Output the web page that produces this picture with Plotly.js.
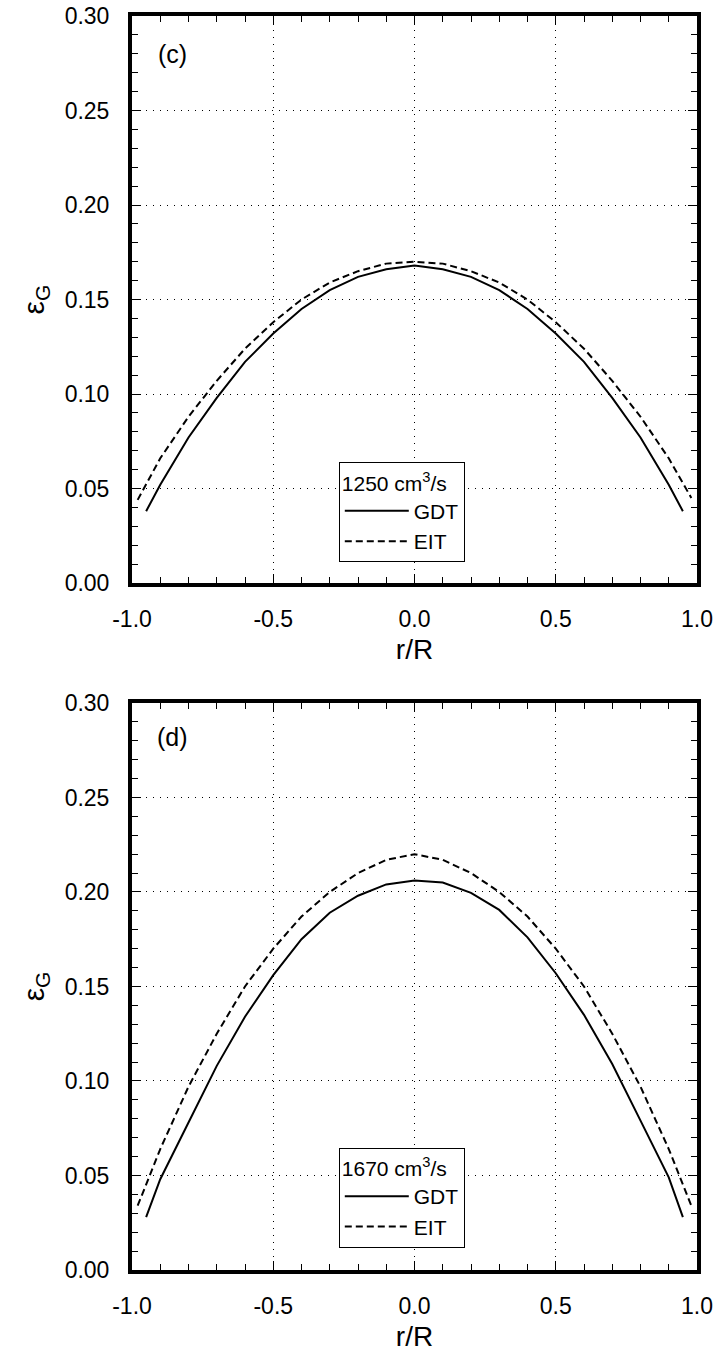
<!DOCTYPE html>
<html>
<head>
<meta charset="utf-8">
<script src="https://cdn.plot.ly/plotly-3.0.1.min.js"></script>
<style>html,body{margin:0;padding:0;background:#fff;}</style>
</head>
<body>
<div id="chart" style="width:717px;height:1352px;"></div>
<script>
// ---- data ----
var xGDT = [-0.95,-0.9,-0.8,-0.7,-0.6,-0.5,-0.4,-0.3,-0.2,-0.1,0,0.1,0.2,0.3,0.4,0.5,0.6,0.7,0.8,0.9,0.95];
var xEIT = [-0.98,-0.9,-0.8,-0.7,-0.6,-0.5,-0.4,-0.3,-0.2,-0.1,0,0.1,0.2,0.3,0.4,0.5,0.6,0.7,0.8,0.9,0.98];
var cGDT = [0.038,0.052,0.077,0.098,0.117,0.132,0.145,0.155,0.162,0.166,0.168,0.166,0.162,0.155,0.145,0.132,0.117,0.098,0.077,0.052,0.038];
var cEIT = [0.044,0.066,0.088,0.107,0.124,0.138,0.150,0.159,0.165,0.169,0.170,0.169,0.165,0.159,0.150,0.138,0.124,0.107,0.088,0.066,0.045];
var dGDT = [0.028,0.048,0.078,0.108,0.134,0.156,0.175,0.189,0.198,0.204,0.206,0.205,0.1995,0.1905,0.176,0.157,0.135,0.109,0.079,0.049,0.028];
var dEIT = [0.034,0.064,0.097,0.125,0.150,0.170,0.187,0.200,0.210,0.217,0.220,0.217,0.210,0.200,0.187,0.170,0.150,0.125,0.097,0.064,0.034];
var xTickVals = [-1.0,-0.5,0.0,0.5,1.0];
var xTickText = ["-1.0","-0.5","0.0","0.5","1.0"];
var yTickVals = [0,0.05,0.10,0.15,0.20,0.25,0.30];
var yTickText = ["0.00","0.05","0.10","0.15","0.20","0.25","0.30"];
var seriesNames = ["GDT","EIT"];
var flowTop = "1250 cm<sup>3</sup>/s";
var flowBottom = "1670 cm<sup>3</sup>/s";
var panelLabels = ["(c)","(d)"];

// ---- styling ----
var FONT = "Liberation Sans, Arial, Helvetica, sans-serif";
var solid = {color:"#000", width:2, dash:"solid"};
var dashed = {color:"#000", width:2, dash:"7px,4px"};

var traces = [
  {x:xGDT, y:cGDT, mode:"lines", name:seriesNames[0], line:solid, xaxis:"x", yaxis:"y", legend:"legend"},
  {x:xEIT, y:cEIT, mode:"lines", name:seriesNames[1], line:dashed, xaxis:"x", yaxis:"y", legend:"legend"},
  {x:xGDT, y:dGDT, mode:"lines", name:seriesNames[0], line:solid, xaxis:"x2", yaxis:"y2", legend:"legend2"},
  {x:xEIT, y:dEIT, mode:"lines", name:seriesNames[1], line:dashed, xaxis:"x2", yaxis:"y2", legend:"legend2"}
];

function xAxis(anchor){
  return {
    anchor:anchor, domain:[0,1], range:[-1,1],
    tickmode:"array", tickvals:xTickVals, ticktext:xTickText,
    ticks:"inside", ticklen:9, tickwidth:1, tickcolor:"#000",
    minor:{dtick:0.1, tick0:0, ticks:"inside", ticklen:6, tickwidth:1, tickcolor:"#000", showgrid:false},
    showline:true, linewidth:4, linecolor:"#000", mirror:"ticks",
    showgrid:true, gridcolor:"#000", gridwidth:1, griddash:"1px,6px",
    zeroline:false,
    tickfont:{family:FONT, size:23, color:"#000"},
    ticklabelstandoff:12,
    title:{text:"r/R", font:{family:FONT, size:28, color:"#000"}, standoff:10}
  };
}
function yAxis(anchor, domain){
  return {
    anchor:anchor, domain:domain, range:[0,0.30],
    tickmode:"array", tickvals:yTickVals, ticktext:yTickText,
    ticks:"inside", ticklen:9, tickwidth:1, tickcolor:"#000",
    minor:{dtick:0.01, tick0:0, ticks:"inside", ticklen:6, tickwidth:1, tickcolor:"#000", showgrid:false},
    showline:true, linewidth:4, linecolor:"#000", mirror:"ticks",
    showgrid:true, gridcolor:"#000", gridwidth:1, griddash:"1px,6px",
    zeroline:false,
    tickfont:{family:FONT, size:23, color:"#000"},
    ticklabelstandoff:14,
    title:{text:"ε<sub>G</sub>", font:{family:FONT, size:30, color:"#000"}, standoff:12}
  };
}
function legendBox(ytop, title){
  return {
    x:0.366, xanchor:"left", y:ytop, yanchor:"top",
    bgcolor:"#fff", bordercolor:"#000", borderwidth:1,
    font:{family:FONT, size:21, color:"#000"},
    title:{text:title, side:"top", font:{family:FONT, size:21, color:"#000"}},
    itemwidth:64, tracegroupgap:0,
    entrywidth:140, entrywidthmode:"pixels"
  };
}

var layout = {
  width:717, height:1352,
  margin:{l:132, r:20, t:16, b:82},
  paper_bgcolor:"#fff", plot_bgcolor:"#fff",
  showlegend:true,
  font:{family:FONT, color:"#000"},
  xaxis:xAxis("y"),
  yaxis:yAxis("x",[0.5478,1]),
  xaxis2:xAxis("y2"),
  yaxis2:yAxis("x2",[0,0.4522]),
  legend:legendBox(0.644, flowTop),
  legend2:legendBox(0.0975, flowBottom),
  annotations:[
    {xref:"x", yref:"y", x:-0.855, y:0.280, text:panelLabels[0], showarrow:false, font:{family:FONT, size:25, color:"#000"}},
    {xref:"x2", yref:"y2", x:-0.855, y:0.282, text:panelLabels[1], showarrow:false, font:{family:FONT, size:25, color:"#000"}}
  ]
};

Plotly.newPlot("chart", traces, layout, {staticPlot:true, displayModeBar:false});
</script>
</body>
</html>
